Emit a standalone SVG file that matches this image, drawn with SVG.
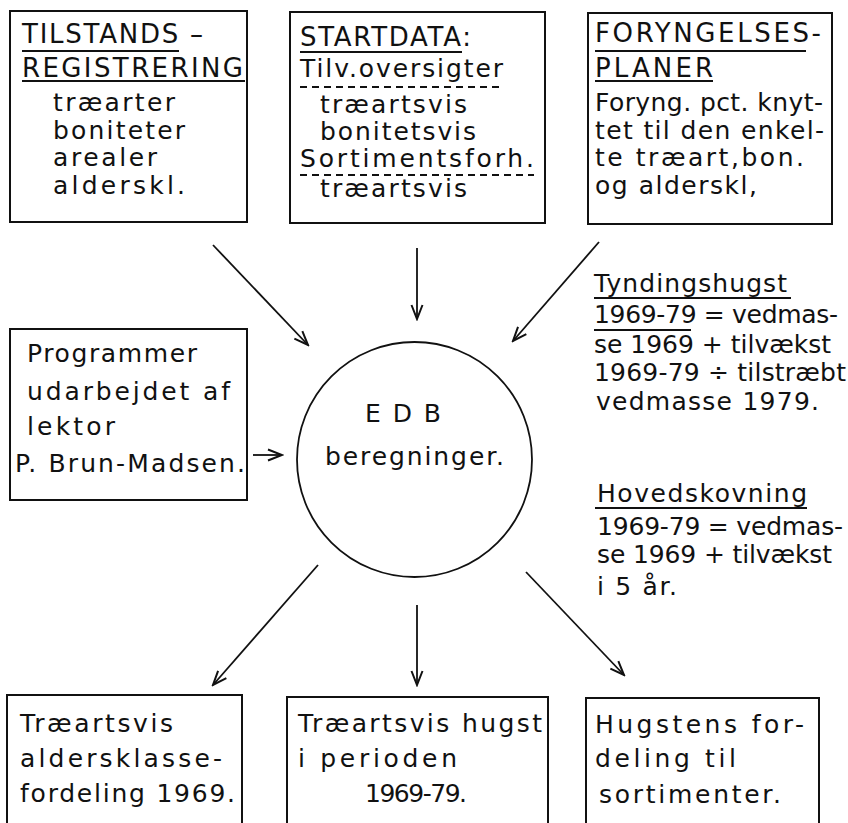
<svg xmlns="http://www.w3.org/2000/svg" width="848" height="823" viewBox="0 0 848 823">
<defs>
<style>
text{font-family:"DejaVu Sans","Liberation Sans",sans-serif;font-size:25px;fill:#111;}
.cap{font-size:26px;}
.box{fill:none;stroke:#111;stroke-width:2;}
.ul{fill:none;stroke:#111;stroke-width:1.8;}
.dash{fill:none;stroke:#111;stroke-width:1.8;stroke-dasharray:7 5;}
.conn{fill:none;stroke:#111;stroke-width:1.8;marker-end:url(#arr);}
</style>
<marker id="arr" viewBox="-16 -8 18 16" refX="0" refY="0" markerWidth="18" markerHeight="16" orient="auto" markerUnits="userSpaceOnUse">
<path d="M-14,-5.5 L0,0 L-14,5.5" fill="none" stroke="#111" stroke-width="2"/>
</marker>
</defs>
<rect width="848" height="823" fill="#fff"/>

<g id="tilstand">
<rect class="box" x="10" y="11" width="237" height="211"/>
<text class="cap" x="22" y="43" textLength="181" lengthAdjust="spacing">TILSTANDS –</text>
<text class="cap" x="22" y="77" textLength="221" lengthAdjust="spacing">REGISTRERING</text>
<text x="53" y="111" textLength="122" lengthAdjust="spacing">træarter</text>
<text x="53" y="139" textLength="132" lengthAdjust="spacing">boniteter</text>
<text x="53" y="166" textLength="104" lengthAdjust="spacing">arealer</text>
<text x="53" y="194" textLength="132" lengthAdjust="spacing">alderskl.</text>
<path class="ul" d="M22,51 H179 M22,81 H245"/>
</g>

<g id="startdata">
<rect class="box" x="290" y="12" width="255" height="211"/>
<text class="cap" x="300" y="46" textLength="171" lengthAdjust="spacing">STARTDATA:</text>
<text x="300" y="77" textLength="203" lengthAdjust="spacing">Tilv.oversigter</text>
<text x="320" y="113" textLength="147" lengthAdjust="spacing">træartsvis</text>
<text x="320" y="140" textLength="156" lengthAdjust="spacing">bonitetsvis</text>
<text x="300" y="167" textLength="234" lengthAdjust="spacing">Sortimentsforh.</text>
<text x="320" y="197" textLength="147" lengthAdjust="spacing">træartsvis</text>
<path class="ul" d="M300,52 H462"/>
<path class="dash" d="M300,87 H503 M300,175 H534"/>
</g>

<g id="foryngelse">
<rect class="box" x="588" y="13" width="244" height="211"/>
<text class="cap" x="595" y="42" textLength="226" lengthAdjust="spacing">FORYNGELSES-</text>
<text class="cap" x="595" y="77" textLength="118" lengthAdjust="spacing">PLANER</text>
<text x="595" y="111" textLength="228" lengthAdjust="spacing">Foryng. pct. knyt-</text>
<text x="595" y="139" textLength="229" lengthAdjust="spacing">tet til den enkel-</text>
<text x="595" y="166" textLength="209" lengthAdjust="spacing">te træart,bon.</text>
<text x="595" y="194" textLength="162" lengthAdjust="spacing">og alderskl,</text>
<path class="ul" d="M595,51 H806 M595,81 H713"/>
</g>

<g id="programmer">
<rect class="box" x="10" y="329" width="237" height="171"/>
<text x="27" y="362" textLength="170" lengthAdjust="spacing">Programmer</text>
<text x="27" y="400" textLength="203" lengthAdjust="spacing">udarbejdet af</text>
<text x="27" y="435" textLength="88" lengthAdjust="spacing">lektor</text>
<text x="15" y="472" textLength="230" lengthAdjust="spacing">P. Brun-Madsen.</text>
</g>

<g id="edb">
<circle cx="414.5" cy="459.5" r="117.5" fill="none" stroke="#111" stroke-width="1.8"/>
<text x="365" y="422" textLength="76" lengthAdjust="spacing">E D B</text>
<text x="325" y="465" textLength="179" lengthAdjust="spacing">beregninger.</text>
</g>

<g id="tynding">
<text x="594" y="292" textLength="193" lengthAdjust="spacing">Tyndingshugst</text>
<text x="594" y="323" textLength="244" lengthAdjust="spacing">1969-79 = vedmas-</text>
<text x="594" y="353" textLength="237" lengthAdjust="spacing">se 1969 + tilvækst</text>
<text x="594" y="381" textLength="252" lengthAdjust="spacing">1969-79 ÷ tilstræbt</text>
<text x="596" y="410" textLength="223" lengthAdjust="spacing">vedmasse 1979.</text>
<path class="ul" d="M594,298 H791 M594,330 H691"/>
</g>

<g id="hovedskovning">
<text x="597" y="502" textLength="210" lengthAdjust="spacing">Hovedskovning</text>
<text x="597" y="535" textLength="246" lengthAdjust="spacing">1969-79 = vedmas-</text>
<text x="597" y="563" textLength="235" lengthAdjust="spacing">se 1969 + tilvækst</text>
<text x="597" y="595" textLength="80" lengthAdjust="spacing">i 5 år.</text>
<path class="ul" d="M595,508 H807"/>
</g>

<g id="aldersklasse">
<rect class="box" x="7" y="695" width="235" height="140"/>
<text x="20" y="732" textLength="153" lengthAdjust="spacing">Træartsvis</text>
<text x="20" y="767" textLength="202" lengthAdjust="spacing">aldersklasse-</text>
<text x="20" y="802" textLength="215" lengthAdjust="spacing">fordeling 1969.</text>
</g>

<g id="hugst">
<rect class="box" x="287" y="697" width="261" height="140"/>
<text x="298" y="732" textLength="244" lengthAdjust="spacing">Træartsvis hugst</text>
<text x="298" y="767" textLength="159" lengthAdjust="spacing">i perioden</text>
<text x="365" y="802" textLength="102" lengthAdjust="spacing">1969-79.</text>
</g>

<g id="sortimenter">
<rect class="box" x="586" y="698" width="233" height="140"/>
<text x="595" y="733" textLength="209" lengthAdjust="spacing">Hugstens for-</text>
<text x="595" y="767" textLength="141" lengthAdjust="spacing">deling til</text>
<text x="599" y="803" textLength="182" lengthAdjust="spacing">sortimenter.</text>
</g>

<g id="connectors">
<path class="conn" d="M213,245 L308,345"/>
<path class="conn" d="M417,248 L417,319"/>
<path class="conn" d="M599,242 L513,341"/>
<path class="conn" d="M253,455 L282,455"/>
<path class="conn" d="M318,565 L213,685"/>
<path class="conn" d="M417,605 L417,685"/>
<path class="conn" d="M526,572 L624,675"/>
</g>
</svg>
